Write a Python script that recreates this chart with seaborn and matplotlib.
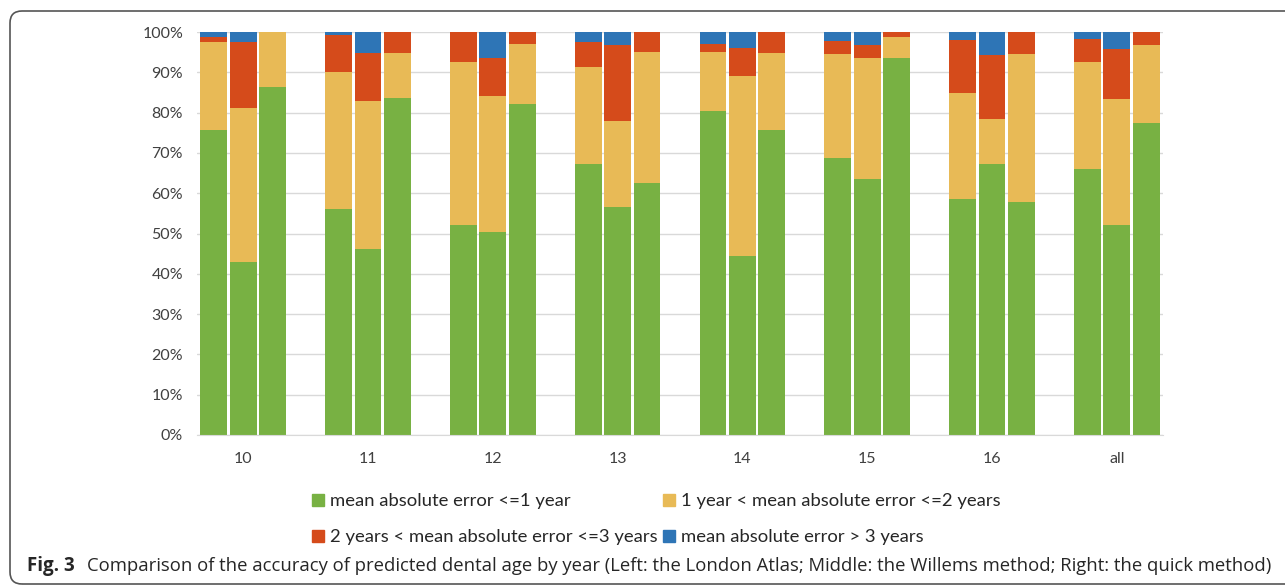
import matplotlib
matplotlib.use('Agg')
import matplotlib.pyplot as plt
from matplotlib.lines import Line2D
from matplotlib.patches import FancyBboxPatch
import numpy as np
import pandas as pd
import seaborn as sns

years = ['10', '11', '12', '13', '14', '15', '16', 'all']
methods = ['London Atlas', 'Willems', 'Quick']

# share of cases per error class, one row per method (London, Willems, quick)
err_le1 = [
    [75.7, 56.1, 52.1, 67.2, 80.5, 68.7, 58.6, 66.1],
    [43.0, 46.2, 50.4, 56.5, 44.5, 63.4, 67.2, 52.2],
    [86.3, 83.6, 82.1, 62.5, 75.7, 93.5, 57.9, 77.5],
]
err_1to2 = [
    [21.8, 34.0, 40.4, 24.0, 14.6, 25.8, 26.2, 26.4],
    [38.1, 36.7, 33.7, 21.5, 44.6, 30.1, 11.1, 31.2],
    [13.7, 11.3, 14.9, 32.6, 19.2, 5.2, 36.6, 19.3],
]
err_2to3 = [
    [1.2, 9.2, 7.5, 6.2, 1.9, 3.3, 13.1, 5.7],
    [16.4, 12.0, 9.4, 18.8, 6.9, 3.3, 16.1, 12.4],
    [0.0, 5.1, 3.0, 4.9, 5.1, 1.3, 5.5, 3.2],
]
err_gt3 = [
    [1.3, 0.7, 0.0, 2.6, 3.0, 2.2, 2.1, 1.8],
    [2.5, 5.1, 6.5, 3.2, 4.0, 3.2, 5.6, 4.2],
    [0.0, 0.0, 0.0, 0.0, 0.0, 0.0, 0.0, 0.0],
]

labels = ['mean absolute error <=1 year',
          '1 year < mean absolute error <=2 years',
          '2 years < mean absolute error <=3 years',
          'mean absolute error > 3 years']
colors = ['#78b143', '#e8ba56', '#d54b1b', '#2e75b6']

rows = []
for m, meth in enumerate(methods):
    for i, yr in enumerate(years):
        rows.append({'year': yr, 'method': meth,
                     'le1': err_le1[m][i], 'e12': err_1to2[m][i],
                     'e23': err_2to3[m][i], 'gt3': err_gt3[m][i]})
df = pd.DataFrame(rows)
df['c1'] = df['le1']
df['c2'] = df['c1'] + df['e12']
df['c3'] = df['c2'] + df['e23']
df['c4'] = df['c3'] + df['gt3']

sns.set_style('white')
plt.rcParams['font.family'] = ['Lato', 'DejaVu Sans']

fig = plt.figure(figsize=(12.85, 5.86), dpi=100)
ax = fig.add_axes([197 / 1285, 1 - 435 / 586, 966 / 1285, 403 / 586])

# draw cumulative layers from the top one down
for col, c in zip(['c4', 'c3', 'c2', 'c1'], colors[::-1]):
    sns.barplot(data=df, x='year', y=col, hue='method', order=years,
                hue_order=methods, palette=[c] * 3, width=0.706, gap=0.09,
                saturation=1, linewidth=0, legend=False, ax=ax, zorder=2)

ax.set_xlim(-0.37, 7.37)
ax.set_ylim(0, 100)
ax.set_yticks(np.arange(0, 101, 10))
ax.set_yticklabels([f'{v}%' for v in range(0, 101, 10)])
ax.yaxis.grid(True, color='#d9d9d9', lw=1, zorder=0)
ax.set_axisbelow(True)
for s in ['top', 'right', 'left']:
    ax.spines[s].set_visible(False)
ax.spines['bottom'].set_color('#d9d9d9')
ax.tick_params(axis='both', length=0, labelsize=11.5, colors='#404040')
ax.tick_params(axis='x', pad=12)
ax.tick_params(axis='y', pad=10)
ax.set_xlabel('')
ax.set_ylabel('')

handles = [Line2D([], [], marker='s', ls='none', color=c, markersize=9) for c in colors]
order = [0, 2, 1, 3]
fig.legend([handles[i] for i in order], [labels[i] for i in order],
           ncol=2, loc='upper left', bbox_to_anchor=(312 / 1285, 1 - 493 / 586),
           frameon=False, fontsize=13.3, handlelength=0.7, handletextpad=0.3,
           columnspacing=0.25, labelspacing=1.1, borderpad=0, borderaxespad=0,
           labelcolor='#262626')

fig.text(27 / 1285, 1 - 566 / 586, 'Fig. 3', fontsize=13.5, fontweight='bold',
         family=['Open Sans', 'DejaVu Sans'], va='center', ha='left')
fig.text(87 / 1285, 1 - 566 / 586,
         'Comparison of the accuracy of predicted dental age by year '
         '(Left: the London Atlas; Middle: the Willems method; Right: the quick method)',
         fontsize=13.3, family=['Open Sans', 'DejaVu Sans'], va='center', ha='left')

box = FancyBboxPatch((10, 2), 1300, 573, boxstyle='round,pad=0,rounding_size=12',
                     transform=None, fill=False, edgecolor='#555555', lw=1.2)
fig.add_artist(box)

fig.savefig('out.png', dpi=100)
